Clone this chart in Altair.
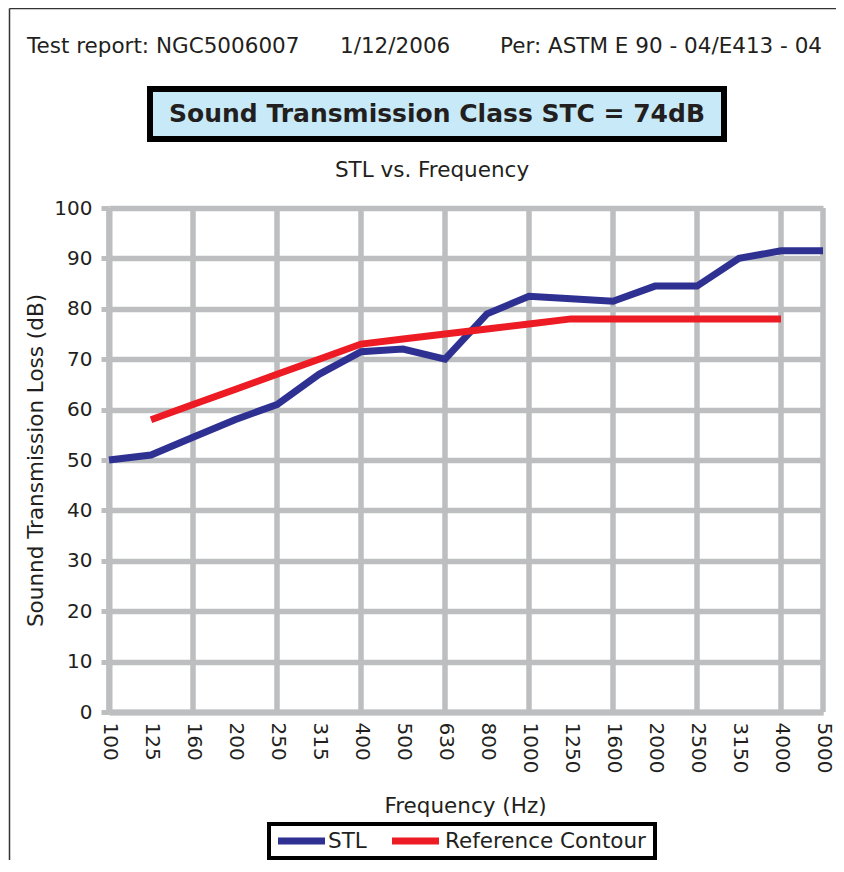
import altair as alt
import pandas as pd

# ---- data ----
freqs = ["100", "125", "160", "200", "250", "315", "400", "500", "630", "800",
         "1000", "1250", "1600", "2000", "2500", "3150", "4000", "5000"]
stl = [50, 51, 54.5, 58, 61, 67, 71.5, 72, 70, 79, 82.5, 82, 81.5, 84.5, 84.5, 90, 91.5, 91.5]
ref_contour = [None, 58, 61, 64, 67, 70, 73, 74, 75, 76, 77, 78, 78, 78, 78, 78, 78, None]
grid_freqs = ["100", "160", "250", "400", "630", "1000", "1600", "2500", "4000", "5000"]
y_ticks = [0, 10, 20, 30, 40, 50, 60, 70, 80, 90, 100]
series_names = ["STL", "Reference Contour"]
series_colors = ["#2e3192", "#ed1c24"]

header_left = "Test report: NGC5006007"
header_mid = "1/12/2006"
header_right = "Per: ASTM E 90 - 04/E413 - 04"
box_title = "Sound Transmission Class STC = 74dB"
subtitle = "STL vs. Frequency"
y_title = "Sounnd Transmission Loss (dB)"
x_title = "Frequency (Hz)"

rows = []
for f, v in zip(freqs, stl):
    rows.append({"freq": f, "value": v, "series": "STL"})
for f, v in zip(freqs, ref_contour):
    if v is not None:
        rows.append({"freq": f, "value": v, "series": "Reference Contour"})
df = pd.DataFrame(rows)
grid_df = pd.DataFrame({"freq": grid_freqs})

W, H = 714, 504
FONT = "DejaVu Sans"
GRAY = "#bcbec0"
INK = "#231f20"

x_enc = alt.X(
    "freq:N",
    scale=alt.Scale(type="point", domain=freqs, padding=0),
    axis=alt.Axis(
        labelAngle=90, ticks=False, grid=False, domainColor=GRAY, domainWidth=6,
        labelPadding=10, labelFont=FONT, labelFontSize=20, labelColor=INK,
        labelOverlap=False, labelBound=False, title=x_title, titleFont=FONT, titleFontSize=21.5,
        titleFontWeight="normal", titleColor=INK, titleX=356, titleY=100,
        titleAlign="center", titleBaseline="alphabetic",
    ),
)
y_enc = alt.Y(
    "value:Q",
    scale=alt.Scale(domain=[0, 100], nice=False),
    axis=alt.Axis(
        values=y_ticks, grid=True, gridColor=GRAY, gridWidth=5.5,
        domainColor=GRAY, domainWidth=6, tickColor=GRAY, tickWidth=5, tickSize=8,
        labelPadding=9, labelFont=FONT, labelFontSize=20, labelColor=INK,
        title=y_title, titleFont=FONT, titleFontSize=21.5, titleFontWeight="normal",
        titleColor=INK, titleX=-73, titleY=H / 2, titleAngle=-90,
        titleAlign="center", titleBaseline="middle",
    ),
)

vgrid = alt.Chart(grid_df).mark_rule(color=GRAY, strokeWidth=5.5).encode(
    x=x_enc, y=alt.value(0), y2=alt.value(H)
)

lines = alt.Chart(df).mark_line(strokeWidth=7).encode(
    x=x_enc,
    y=y_enc,
    color=alt.Color(
        "series:N",
        scale=alt.Scale(domain=series_names, range=series_colors),
        legend=None,
    ),
    detail="series:N",
)

def text_layer(txt, x, y, size, align="left", weight="normal", baseline="alphabetic"):
    return alt.Chart(pd.DataFrame({"t": [txt]})).mark_text(
        font=FONT, fontSize=size, fontWeight=weight, color=INK,
        align=align, baseline=baseline,
    ).encode(x=alt.value(x), y=alt.value(y), text="t:N")

one = pd.DataFrame({"k": [0]})
frame_left = alt.Chart(one).mark_rule(color="#333333", strokeWidth=1.5).encode(
    x=alt.value(-99.5), y=alt.value(-199.5), y2=alt.value(H + 200)
)
frame_top = alt.Chart(one).mark_rule(color="#333333", strokeWidth=1.5).encode(
    x=alt.value(-99.5), x2=alt.value(W + 20), y=alt.value(-199.5)
)
title_box = alt.Chart(one).mark_rect(fill="#c8eaf8", stroke="black", strokeWidth=6).encode(
    x=alt.value(41), x2=alt.value(615), y=alt.value(-119), y2=alt.value(-69)
)

# legend (box, swatches and labels) built from the series lists
legend_box = alt.Chart(one).mark_rect(fill="white", stroke="black", strokeWidth=4).encode(
    x=alt.value(160), x2=alt.value(546), y=alt.value(616), y2=alt.value(650)
)
sw_x = [169, 283]
lab_x = [219, 336]
legend_layers = [legend_box]
for name, col, sx, lx in zip(series_names, series_colors, sw_x, lab_x):
    legend_layers.append(
        alt.Chart(pd.DataFrame({"series": [name]})).mark_rule(strokeWidth=7).encode(
            x=alt.value(sx), x2=alt.value(sx + 47), y=alt.value(633),
            color=alt.Color("series:N", scale=alt.Scale(domain=series_names, range=series_colors), legend=None),
        )
    )
    legend_layers.append(
        alt.Chart(pd.DataFrame({"t": [name]})).mark_text(
            font=FONT, fontSize=21.5, color=INK, align="left", baseline="middle",
        ).encode(x=alt.value(lx), y=alt.value(634), text="t:N")
    )

chart = alt.layer(
    frame_left,
    frame_top,
    title_box,
    text_layer(header_left, -82, -155, 21.5),
    text_layer(header_mid, 231, -155, 21.5),
    text_layer(header_right, 391, -155, 21.5),
    text_layer(box_title, 328, -94, 25, align="center", weight="bold", baseline="middle"),
    text_layer(subtitle, 323, -31, 21.5, align="center"),
    vgrid,
    lines,
    *legend_layers,
).properties(
    width=W, height=H,
    autosize=alt.AutoSizeParams(type="none"),
    padding={"left": 101, "top": 200, "right": 13, "bottom": 148},
).configure_view(stroke=None)

chart.save("out.html", embed_options={"renderer": "svg", "actions": False})
